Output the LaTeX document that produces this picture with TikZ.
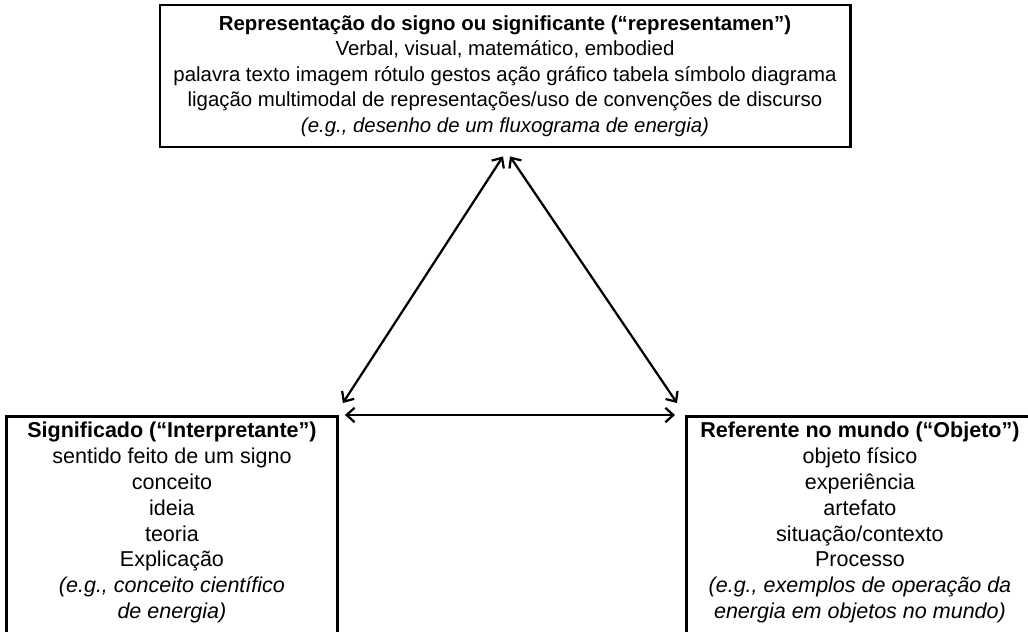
\documentclass[tikz,border=0pt]{standalone}
\usepackage{fontspec}
\setmainfont{Liberation Sans}
\usetikzlibrary{arrows.meta,calc}

\tikzset{
    box/.style={draw, line width=2pt, align=center, inner xsep=0pt, inner ysep=4pt},
    link/.style={{Straight Barb[length=2mm,width=3.6mm]}-{Straight Barb[length=2mm,width=3.6mm]}, line width=1.6pt},
}

\begin{document}
\begin{tikzpicture}[x=0.025cm, y=-0.025cm, font=\fontsize{15.3}{18.4}\selectfont]
    \clip (0,0) rectangle (1028,632);

    % Top box: the sign
    \node[box, minimum width=17.25cm, minimum height=3.55cm, font=\fontsize{14.5}{18.2}\selectfont] (rep) at (505,76)
        {\textbf{Representação do signo ou significante (“representamen”)}\\
         Verbal, visual, matemático, embodied\\
         palavra texto imagem rótulo gestos ação gráfico tabela símbolo diagrama\\
         ligação multimodal de representações/uso de convenções de discurso\\
         \textit{(e.g., desenho de um fluxograma de energia)}};

    % Bottom boxes, open below the page
    \node[box, anchor=north west] (sig) at (5,415)
        {\parbox[t][6cm][t]{8.275cm}{\centering
         \textbf{Significado (“Interpretante”)}\\
         sentido feito de um signo\\
         conceito\\
         ideia\\
         teoria\\
         Explicação\\
         \textit{(e.g., conceito científico}\\
         \textit{de energia)}}};

    \node[box, anchor=north west] (ref) at (685,415)
        {\parbox[t][6cm][t]{8.675cm}{\centering
         \textbf{Referente no mundo (“Objeto”)}\\
         objeto físico\\
         experiência\\
         artefato\\
         situação/contexto\\
         Processo\\
         \textit{(e.g., exemplos de operação da}\\
         \textit{energia em objetos no mundo)}}};

    % Draw the triangle of arrows
    \draw[link] ($(rep.south)+(-2,8)$) -- ($(sig.north east)+(4,-12)$);
    \draw[link] ($(rep.south)+(5,8)$) -- ($(ref.north west)+(-8,-12)$);
    \draw[link] ($(sig.north east)+(6,0)$) -- ($(ref.north west)+(-10,0)$);
\end{tikzpicture}
\end{document}
